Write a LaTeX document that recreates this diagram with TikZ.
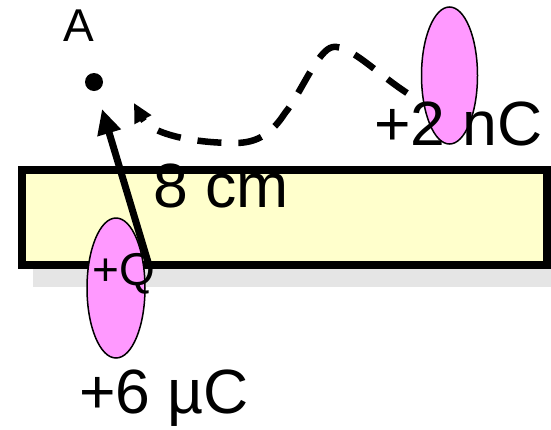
\documentclass[tikz,border=0pt]{standalone}
\usepackage{fontspec}
\setmainfont{Liberation Sans}
\usetikzlibrary{shapes.geometric,arrows.meta}
\definecolor{padyellow}{HTML}{FFFFCC}
\definecolor{chargepink}{HTML}{FF99FF}
\definecolor{shadowgray}{HTML}{E5E5E5}
\begin{document}
\begin{tikzpicture}[x=1pt,y=-1pt,
  bigtext/.style={inner sep=0pt,anchor=base west,font=\fontsize{62.5}{62.5}\selectfont},
  smalltext/.style={inner sep=0pt,anchor=base west,font=\fontsize{46}{46}\selectfont},
  charge/.style={ellipse,draw=black,line width=1.5pt,fill=chargepink,inner sep=0pt},
  pathline/.style={line width=6.5pt,dash pattern=on 24pt off 17pt,-{Triangle[length=19pt,width=18pt]}},
  distarrow/.style={line width=7pt,-{Triangle[length=25pt,width=23pt]}}]
\useasboundingbox (0,0) rectangle (551,429);
% shadow and plate
\fill[shadowgray] (33,185) rectangle (566,287);
\draw[line width=8pt,fill=padyellow] (22,170) rectangle (547,265);
% charges
\node[charge,minimum width=56pt,minimum height=137pt] (q2) at (449.5,75.5) {};
\node[charge,minimum width=58pt,minimum height=140pt] (q6) at (116,288) {};
% point A
\node[circle,fill=black,inner sep=0pt,minimum size=18pt] (A) at (94,82) {};
% texts
\node[smalltext] (lblA) at (63,41) {A};
\node[bigtext] (lbl8) at (153,207) {8 cm};
\node[bigtext] (lbl2) at (374,145) {+2 nC};
\node[bigtext] (lbl6) at (79,413) {+6 µC};
\node[smalltext] (lblQ) at (92,285) {+Q};
% connectors
\coordinate (qstart) at (148,262);
\coordinate (Atip) at (102,109);
\draw[distarrow] (qstart) -- (Atip);
\coordinate (pstart) at (407,93);
\coordinate (pend) at (134,103);
\draw[pathline] (pstart) .. controls (375,72) and (350,45) .. (333,47)
  .. controls (318,49) and (300,95) .. (285,113)
  .. controls (272,133) and (258,143) .. (235,143)
  .. controls (190,143) and (150,133) .. (pend);
\end{tikzpicture}
\end{document}
